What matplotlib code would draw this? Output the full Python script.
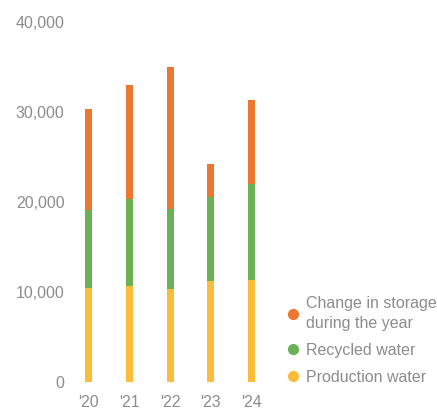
import matplotlib.pyplot as plt
from matplotlib.lines import Line2D
from matplotlib.ticker import FuncFormatter

years = ["'20", "'21", "'22", "'23", "'24"]
production = [10400, 10700, 10300, 11200, 11300]
recycled = [8700, 9600, 8900, 9300, 10700]
storage = [11200, 12700, 15800, 3700, 9300]

COLORS = {
    "Production water": "#FBBC3A",
    "Recycled water": "#6AB155",
    "Change in storage\nduring the year": "#EC7730",
}
GREY = "#8c8c8c"

plt.rcParams.update({
    "font.family": ["Liberation Sans", "DejaVu Sans"],
    "font.size": 11,
})

fig = plt.figure(figsize=(4.37, 4.12), dpi=100)
ax = fig.add_axes([0.157, 0.0728, 0.465, 0.874])

x = range(len(years))
w = 0.17
bottom = [0] * len(years)
for vals, (label, color) in zip([production, recycled, storage], COLORS.items()):
    ax.bar(x, vals, w, bottom=bottom, color=color, label=label, edgecolor="none")
    bottom = [b + v for b, v in zip(bottom, vals)]

ax.set_xlim(-0.5, 4.5)
ax.set_ylim(0, 40000)
ax.set_yticks([0, 10000, 20000, 30000, 40000])
ax.yaxis.set_major_formatter(FuncFormatter(lambda v, p: f"{int(v):,}"))
ax.set_xticks(list(x))
ax.set_xticklabels(years)
ax.tick_params(length=0, colors=GREY, labelsize=11.5)
ax.tick_params(axis="y", pad=3)
ax.tick_params(axis="x", pad=9)
for s in ax.spines.values():
    s.set_visible(False)

handles = [Line2D([], [], marker="o", ls="none", ms=7, color=c, label=l)
           for l, c in reversed(list(COLORS.items()))]
leg = fig.legend(handles=handles, loc="lower left", bbox_to_anchor=(0.637, 0.05),
                 frameon=False, fontsize=11.5, handletextpad=0.3, labelspacing=0.75,
                 handlelength=1.0, borderaxespad=0)
for t in leg.get_texts():
    t.set_color(GREY)
    t.set_linespacing(1.45)

fig.savefig("out.png", dpi=100)
